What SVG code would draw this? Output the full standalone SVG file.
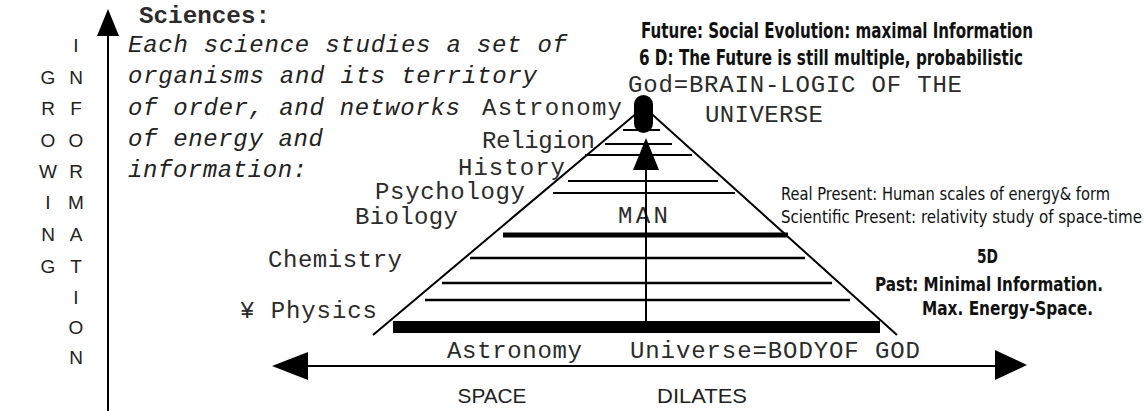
<svg xmlns="http://www.w3.org/2000/svg" width="1146" height="411" viewBox="0 0 1146 411">
<style>
.mono{font-family:"Liberation Mono","Courier New",monospace;font-size:24px;fill:#2b2b2b}
.it{font-style:italic;fill:#222}
.sans{font-family:"Liberation Sans",Arial,sans-serif;font-size:19px;fill:#222;text-anchor:middle}
.big{font-size:21px}
.cond{font-family:"DejaVu Sans Condensed","DejaVu Sans",sans-serif;font-stretch:condensed;font-weight:bold;fill:#111;font-size:21px}
.c5{font-size:20px}
.thin{font-family:"DejaVu Sans Condensed","DejaVu Sans",sans-serif;font-stretch:condensed;fill:#111;font-size:17px}
.ln{stroke:#000;fill:none}
.ah{fill:#000}
</style>
<rect width="1146" height="411" fill="#fff"/>
<g id="axis-label">
<text class="sans" x="76" y="52">I</text>
<text class="sans" x="48" y="84">G</text><text class="sans" x="76" y="84">N</text>
<text class="sans" x="48" y="115">R</text><text class="sans" x="76" y="115">F</text>
<text class="sans" x="48" y="147">O</text><text class="sans" x="76" y="147">O</text>
<text class="sans" x="48" y="178">W</text><text class="sans" x="76" y="178">R</text>
<text class="sans" x="48" y="209">I</text><text class="sans" x="76" y="209">M</text>
<text class="sans" x="48" y="241">N</text><text class="sans" x="76" y="241">A</text>
<text class="sans" x="48" y="273">G</text><text class="sans" x="76" y="273">T</text>
<text class="sans" x="76" y="304">I</text>
<text class="sans" x="76" y="334">O</text>
<text class="sans" x="76" y="364">N</text>
</g>
<g id="sciences">
<text class="mono" x="139" y="23" font-weight="bold" fill="#111" textLength="131" lengthAdjust="spacingAndGlyphs">Sciences:</text>
<text class="mono it" x="128" y="52" textLength="439">Each science studies a set of</text>
<text class="mono it" x="128" y="83" textLength="409">organisms and its territory</text>
<text class="mono it" x="128" y="115" textLength="332">of order, and networks</text>
<text class="mono it" x="128" y="146" textLength="195">of energy and</text>
<text class="mono it" x="128" y="177" textLength="179">information:</text>
</g>
<g id="science-labels">
<text class="mono" x="482" y="115" textLength="140">Astronomy</text>
<text class="mono" x="482" y="148" textLength="113">Religion</text>
<text class="mono" x="458" y="175" textLength="107">History</text>
<text class="mono" x="375" y="199" textLength="150">Psychology</text>
<text class="mono" x="355" y="224" textLength="103">Biology</text>
<text class="mono" x="268" y="267" textLength="134">Chemistry</text>
<text class="mono" x="240" y="318" textLength="137">¥ Physics</text>
<text class="mono" x="447" y="358" textLength="135">Astronomy</text>
<text class="mono" x="630" y="358" textLength="290">Universe=BODYOF GOD</text>
<text class="mono" x="618" y="223" textLength="50">MAN</text>
<text class="mono" x="628" y="92" textLength="334">God=BRAIN-LOGIC OF THE</text>
<text class="mono" x="705" y="122" textLength="118">UNIVERSE</text>
</g>
<g id="future">
<text class="cond" x="641" y="38" textLength="392" lengthAdjust="spacingAndGlyphs">Future: Social Evolution: maximal Information</text>
<text class="cond" x="639" y="65" textLength="384" lengthAdjust="spacingAndGlyphs">6 D: The Future is still multiple, probabilistic</text>
</g>
<g id="present">
<text class="thin" x="781" y="200" textLength="329" lengthAdjust="spacingAndGlyphs">Real Present: Human scales of energy&amp; form</text>
<text class="thin" x="781" y="223" textLength="361" lengthAdjust="spacingAndGlyphs">Scientific Present: relativity study of  space-time</text>
</g>
<g id="past">
<text class="cond c5" x="977" y="263" textLength="21" lengthAdjust="spacingAndGlyphs">5D</text>
<text class="cond c5" x="875" y="291" textLength="228" lengthAdjust="spacingAndGlyphs">Past: Minimal Information.</text>
<text class="cond c5" x="922" y="315" textLength="171" lengthAdjust="spacingAndGlyphs">Max. Energy-Space.</text>
</g>
<g id="space-dilates">
<text class="sans big" x="492" y="403" textLength="69" lengthAdjust="spacingAndGlyphs">SPACE</text>
<text class="sans big" x="702" y="403" textLength="90" lengthAdjust="spacingAndGlyphs">DILATES</text>
</g>
<g id="pyramid">
<polyline class="ln" stroke-width="2" points="373,335 644,107 897,335"/>
<g class="ln">
<line x1="623" y1="130" x2="660" y2="130" stroke-width="2"/>
<line x1="605" y1="144" x2="672" y2="144" stroke-width="2"/>
<line x1="585" y1="155" x2="692" y2="155" stroke-width="2"/>
<line x1="568" y1="181" x2="718" y2="181" stroke-width="2"/>
<line x1="553" y1="193" x2="735" y2="193" stroke-width="2"/>
<line x1="503" y1="235" x2="788" y2="235" stroke-width="5"/>
<line x1="470" y1="258" x2="805" y2="258" stroke-width="2.5"/>
<line x1="442" y1="283" x2="832" y2="283" stroke-width="2.5"/>
<line x1="425" y1="300" x2="850" y2="300" stroke-width="2.5"/>
<line x1="393" y1="327" x2="880" y2="327" stroke-width="12"/>
</g>
<rect x="634" y="95" width="19" height="38" rx="9.5" fill="#000"/>
</g>
<g id="connectors">
<line class="ln" x1="108" y1="33" x2="108" y2="411" stroke-width="2"/>
<polygon class="ah" points="108,9 97,36 119,36"/>
<line class="ln" x1="646" y1="166" x2="646" y2="322" stroke-width="2"/>
<polygon class="ah" points="646,138 633,170 659,170"/>
<line class="ln" x1="305" y1="366" x2="997" y2="366" stroke-width="2"/>
<polygon class="ah" points="272,366 308,352 308,380"/>
<polygon class="ah" points="1027,365 995,350 995,380"/>
</g>
</svg>
